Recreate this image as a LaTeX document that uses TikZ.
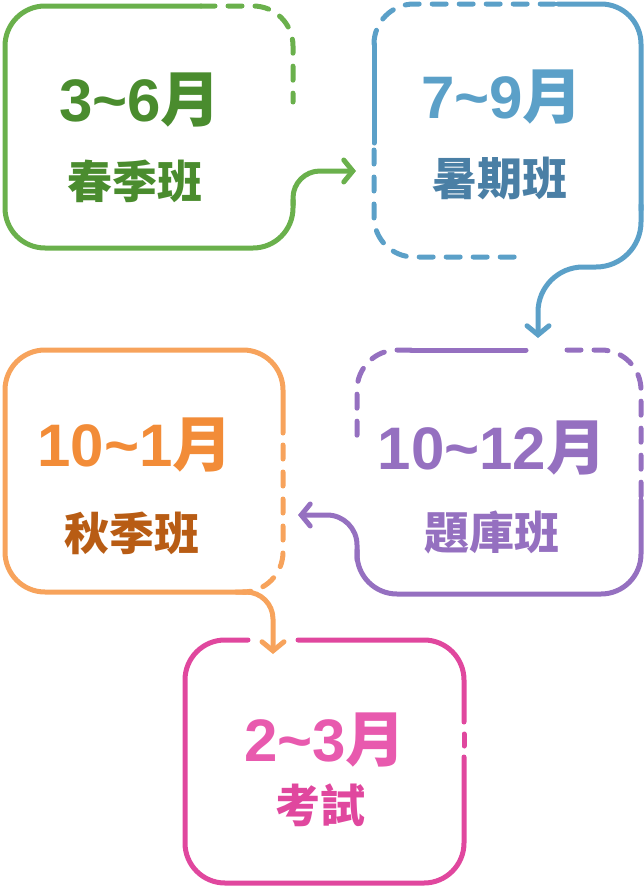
\documentclass[tikz,border=0pt]{standalone}
\usepackage{fontspec}
\setmainfont{Liberation Sans}
\newfontfamily\cjk{Noto Sans CJK TC}
\usetikzlibrary{arrows.meta}
\definecolor{gL}{HTML}{6AB04C}\definecolor{gT}{HTML}{4A8C2E}
\definecolor{bL}{HTML}{5BA0C8}\definecolor{bT}{HTML}{4A7FA5}
\definecolor{pL}{HTML}{9570C0}
\definecolor{oL}{HTML}{F7A35C}\definecolor{oN}{HTML}{F28C38}\definecolor{oT}{HTML}{B85C14}
\definecolor{kL}{HTML}{E0479E}\definecolor{kN}{HTML}{E85AAE}
\begin{document}
\begin{tikzpicture}[x=1pt,y=-1pt,
  ln/.style={line width=5pt,line cap=round,line join=round,rounded corners=40pt},
  dsh/.style={ln,dash pattern=on 14pt off 13pt},
  arr/.style={line width=5pt,line cap=round,line join=round,-{Straight Barb[length=9pt,width=22pt,line cap=round]}},
  num/.style={font=\fontsize{60}{60}\selectfont\bfseries},
  lab/.style={font=\fontsize{45}{45}\selectfont\cjk\bfseries}]
\useasboundingbox (0,0) rectangle (643,886);
% green
\draw[ln,gL] (201,6) -- (5,6) -- (5,248) -- (293,248) -- (293,200);
\draw[dsh,gL] (201,6) -- (293,6) -- (293,102);
\draw[arr,gL,rounded corners=27pt] (293,205) -- (293,171) -- (356,171);
\node[num,gT] (n1) at (140,100) {3\textasciitilde6{\cjk 月}};
\node[lab,gT] (l1) at (135,181) {春季班};
% blue
\draw[ln,bL] (374,143) -- (374,44);
\draw[dsh,bL] (374,44) -- (374,4) -- (558,4);
\draw[ln,bL] (558,4) -- (641,4) -- (641,210);
\draw[arr,bL,rounded corners=45pt] (641,205) -- (641,267) -- (538,267) -- (538,338);
\draw[dsh,bL] (374,150) -- (374,257) -- (524,257);
\node[num,bL] (n2) at (502,97) {7\textasciitilde9{\cjk 月}};
\node[lab,bT] (l2) at (500,178) {暑期班};
% purple
\draw[ln,pL] (411,350) -- (526,350);
\draw[dsh,pL] (567,350) -- (641,350) -- (641,500);
\draw[ln,pL] (641,500) -- (641,594) -- (357,594) -- (357,550);
\draw[arr,pL,rounded corners=30pt] (357,560) -- (357,515) -- (298,515);
\draw[dsh,pL] (411,350) -- (357,350) -- (357,445);
\node[num,pL] (n3) at (492,448) {10\textasciitilde12{\cjk 月}};
\node[lab,pL] (l3) at (492,533) {題庫班};
% orange
\draw[ln,oL] (283,433) -- (283,350) -- (5,350) -- (5,592) -- (246,592);
\draw[arr,oL,rounded corners=27pt] (236,592) -- (273,592) -- (273,654);
\draw[dsh,oL] (283,445) -- (283,592) -- (262,592);
\node[num,oN] (n4) at (135,445) {10\textasciitilde1{\cjk 月}};
\node[lab,oT] (l4) at (132,533) {秋季班};
% pink
\draw[ln,kL] (298,640) -- (464,640) -- (464,722);
\draw[ln,kL] (464,734) -- (464,746);
\draw[ln,kL] (464,757) -- (464,883) -- (185,883) -- (185,640) -- (248,640);
\node[num,kN] (n5) at (325,740) {2\textasciitilde3{\cjk 月}};
\node[lab,kL] (l5) at (320,805) {考試};
\end{tikzpicture}
\end{document}
